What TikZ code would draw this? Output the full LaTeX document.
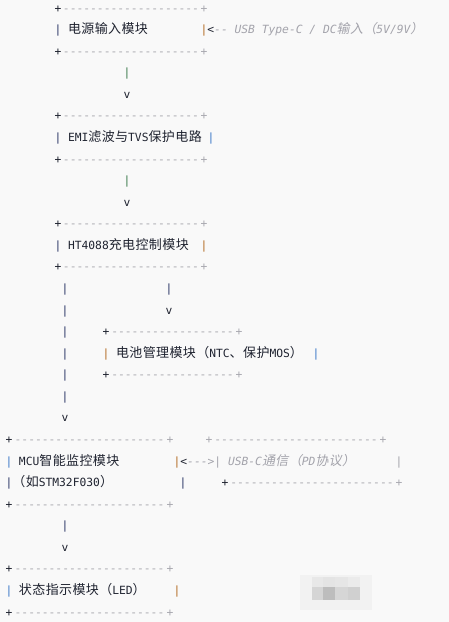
\documentclass[tikz,border=0pt]{standalone}
\usepackage{fontspec}
\newfontfamily\rkmonof{DejaVu Sans Mono}
\newfontfamily\rkmonoitf{DejaVu Sans Mono Oblique}
\newfontfamily\rkcjkf[LetterSpace=3]{Noto Sans CJK SC}
\newfontfamily\rkcjkitf[FakeSlant=0.2,LetterSpace=3]{Noto Sans CJK SC}
\newcommand\rkm{\rkmonof\fontsize{11.3pt}{13pt}\selectfont}
\newcommand\rkmi{\rkmonoitf\fontsize{11.3pt}{13pt}\selectfont}
\newcommand\rkc[1]{{\rkcjkf\fontsize{13pt}{15pt}\selectfont #1}}
\newcommand\rkci[1]{{\rkcjkitf\fontsize{13pt}{15pt}\selectfont #1}}
\definecolor{bgc}{HTML}{F9F9F9}
\definecolor{txc}{HTML}{1F2330}
\definecolor{dashc}{HTML}{A9A9B0}
\definecolor{cmt}{HTML}{A3A3AB}
\definecolor{pnavy}{HTML}{2A3566}
\definecolor{porange}{HTML}{B36B22}
\definecolor{pblue}{HTML}{3C78C8}
\definecolor{pgreen}{HTML}{3B7A4C}
\tikzset{
  ch/.style={anchor=base, inner sep=0pt, outer sep=0pt, font=\rkm},
  tline/.style={anchor=base west, inner sep=0pt, outer sep=0pt, font=\rkm, text=txc},
  cline/.style={anchor=base west, inner sep=0pt, outer sep=0pt, font=\rkmi, text=cmt},
}
% border row: name, baseline y, x left, x right, colour of left plus
\newcommand\rkbord[5]{%
  \node[ch,text=#5] (#1l) at (#3,#2) {+};
  \node[ch,text=dashc] (#1r) at (#4,#2) {+};
  \pgfmathsetlengthmacro\rkdw{#4-#3-6.8}%
  \node[anchor=base west,inner sep=0pt,outer sep=0pt,text=dashc,font=\rkm] (#1d) at (#1l.base east) {\hbox to \rkdw{\cleaders\hbox{-}\hfill}};
}
\begin{document}
\begin{tikzpicture}[x=1pt,y=-1pt]
\fill[bgc] (0,0) rectangle (449,622);
\useasboundingbox (0,0) rectangle (449,622);

% blurred watermark patch
\fill[fill={rgb,255:red,242;green,242;blue,242}] (300,575) rectangle (372,610);
\fill[fill={rgb,255:red,232;green,232;blue,232}] (312,577) rectangle (323,587);
\fill[fill={rgb,255:red,228;green,228;blue,228}] (323,577) rectangle (335,587);
\fill[fill={rgb,255:red,230;green,230;blue,230}] (335,577) rectangle (348,587);
\fill[fill={rgb,255:red,235;green,235;blue,235}] (348,577) rectangle (360,587);
\fill[fill={rgb,255:red,213;green,213;blue,213}] (312,587) rectangle (323,600);
\fill[fill={rgb,255:red,189;green,189;blue,189}] (323,587) rectangle (335,600);
\fill[fill={rgb,255:red,214;green,214;blue,214}] (335,587) rectangle (348,600);
\fill[fill={rgb,255:red,208;green,208;blue,208}] (348,587) rectangle (360,600);

% power input module
\rkbord{ba}{12.0}{58}{204}{txc}
\node[ch,text=pnavy] (a1) at (58,33.6) {|};
\node[tline] (a2) at (68,33.6) {\rkc{电源输入模块}};
\node[ch,text=porange] (a3) at (204,33.6) {|};
\node[tline] (a4) at (207.4,33.6) {<};
\node[cline] (a5) at (a4.base east) {-- USB Type-C / DC\rkci{输入（}5V/9V\rkci{）}};
\rkbord{bb}{55.1}{58}{204}{txc}
\node[ch,text=pgreen] (a6) at (127,76.7) {|};
\node[ch,text=txc] (a7) at (127,98.3) {v};

% EMI
\rkbord{bc}{119.9}{58}{204}{txc}
\node[ch,text=pnavy] (e1) at (58,141.4) {|};
\node[tline] (e2) at (68,141.4) {EMI\rkc{滤波与}TVS\rkc{保护电路}};
\node[ch,text=pblue] (e3) at (211,141.4) {|};
\rkbord{bd}{163.0}{58}{204}{txc}
\node[ch,text=pgreen] (e4) at (127,184.6) {|};
\node[ch,text=txc] (e5) at (127,206.1) {v};

% HT4088
\rkbord{be}{227.7}{58}{204}{txc}
\node[ch,text=pnavy] (h1) at (58,249.3) {|};
\node[tline] (h2) at (68,249.3) {HT4088\rkc{充电控制模块}};
\node[ch,text=porange] (h3) at (204,249.3) {|};
\rkbord{bf}{270.8}{58}{204}{txc}

% branches
\node[ch,text=pnavy] (l1) at (65,292.4) {|};
\node[ch,text=pnavy] (r1) at (169,292.4) {|};
\node[ch,text=pnavy] (l2) at (65,314.0) {|};
\node[ch,text=txc] (r2) at (169,314.0) {v};
\node[ch,text=pnavy] (l3) at (65,335.6) {|};
\rkbord{bg}{335.6}{106}{239}{txc}
\node[ch,text=pnavy] (l4) at (65,357.1) {|};
\node[ch,text=porange] (t1) at (106,357.1) {|};
\node[tline] (t2) at (116,357.1) {\rkc{电池管理模块（}NTC\rkc{、保护}MOS\rkc{）}};
\node[ch,text=pblue] (t3) at (316,357.1) {|};
\node[ch,text=pnavy] (l5) at (65,378.7) {|};
\rkbord{bh}{378.7}{106}{239}{txc}
\node[ch,text=pnavy] (l6) at (65,400.3) {|};
\node[ch,text=txc] (l7) at (65,421.8) {v};

% MCU
\rkbord{bi}{443.4}{9}{170}{txc}
\rkbord{bj}{443.4}{209}{383}{dashc}
\node[ch,text=pblue] (m1) at (9,465.0) {|};
\node[tline] (m2) at (19,465.0) {MCU\rkc{智能监控模块}};
\node[ch,text=porange] (m3) at (177,465.0) {|};
\node[tline] (m4) at (180.4,465.0) {<};
\node[cline] (m5) at (m4.base east) {--->| USB-C\rkci{通信（}PD\rkci{协议）}};
\node[ch,font=\rkmi,text=cmt] (m6) at (399,465.0) {|};
\node[ch,text=pnavy] (m7) at (9,486.5) {|};
\node[tline] (m8) at (12.4,486.5) {\rkc{（如}STM32F030\rkc{）}};
\node[ch,text=pnavy] (m9) at (183,486.5) {|};
\rkbord{bk}{486.5}{225}{399}{txc}
\rkbord{bl}{508.1}{9}{170}{txc}
\node[ch,text=pnavy] (m10) at (65,529.7) {|};
\node[ch,text=txc] (m11) at (65,551.3) {v};

% LED
\rkbord{bm}{572.8}{9}{170}{txc}
\node[ch,text=pblue] (s1) at (9,594.4) {|};
\node[tline] (s2) at (19,594.4) {\rkc{状态指示模块（}LED\rkc{）}};
\node[ch,text=porange] (s3) at (177,594.4) {|};
\rkbord{bn}{616.0}{9}{170}{txc}
\end{tikzpicture}
\end{document}
